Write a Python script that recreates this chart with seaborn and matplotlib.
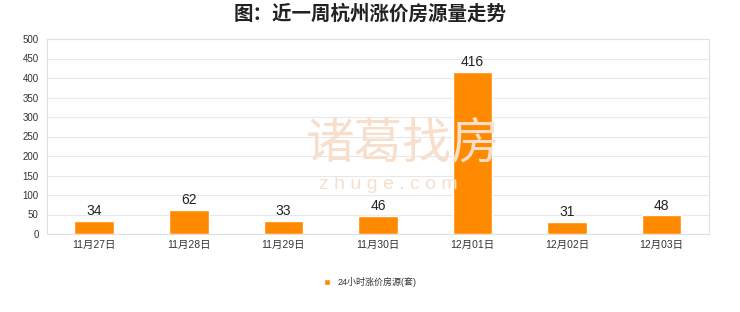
import matplotlib
matplotlib.use("Agg")
import matplotlib.pyplot as plt
import seaborn as sns
import pandas as pd

categories = ["11月27日", "11月28日", "11月29日", "11月30日", "12月01日", "12月02日", "12月03日"]
values = [34, 62, 33, 46, 416, 31, 48]
series_name = "24小时涨价房源(套)"
title = "图：近一周杭州涨价房源量走势"
yticks = [0, 50, 100, 150, 200, 250, 300, 350, 400, 450, 500]

sns.set_theme(style="white")
plt.rcParams['font.family'] = ['Liberation Sans', 'Noto Sans CJK SC', 'DejaVu Sans']

df = pd.DataFrame({"date": categories, "value": values, "series": series_name})

fig = plt.figure(figsize=(7.4, 3.12), dpi=100)

# faint watermark (behind the axes)
fig.text(0.545, 0.54, "诸葛找房", ha="center", va="center", fontsize=35, color="#f7dfcc",
         zorder=0, family=['Noto Sans CJK SC'])
fig.text(0.525, 0.41, "z h u g e . c o m", ha="center", va="center", fontsize=14, color="#f7dfcc",
         zorder=0)

ax = fig.add_axes([0.0635, 0.25, 0.8945, 0.625])
ax.patch.set_alpha(0)
sns.barplot(data=df, x="date", y="value", hue="series", palette=["#FF8A00"],
            width=0.42, ax=ax, saturation=1, zorder=3)

ax.set_ylim(0, 500)
ax.set_yticks(yticks)
ax.yaxis.grid(True, color="#e8e8e8", linewidth=0.8, zorder=0)
ax.set_xlim(-0.5, len(categories) - 0.5)
for s in ax.spines.values():
    s.set_color("#e0e0e0")
    s.set_linewidth(0.8)
ax.tick_params(axis="y", labelsize=7, colors="#333333", length=0, pad=6)
ax.tick_params(axis="x", labelsize=7.5, colors="#333333", length=0, pad=4)
ax.set_xlabel("")
ax.set_ylabel("")

for c in ax.containers:
    ax.bar_label(c, labels=[str(v) for v in values], fontsize=10, color="#222222", padding=2)

ax.legend_.remove()
handles, labels = ax.get_legend_handles_labels()
fig.legend(handles, labels, loc="center", bbox_to_anchor=(0.5, 0.095), frameon=False,
           fontsize=6.5, handlelength=0.7, handleheight=0.7, labelcolor="#333333")

fig.text(0.5, 0.955, title, ha="center", va="center", fontsize=14, fontweight="bold",
         color="#222222", family=['Noto Sans CJK SC'])

fig.savefig("out.png", dpi=100)
